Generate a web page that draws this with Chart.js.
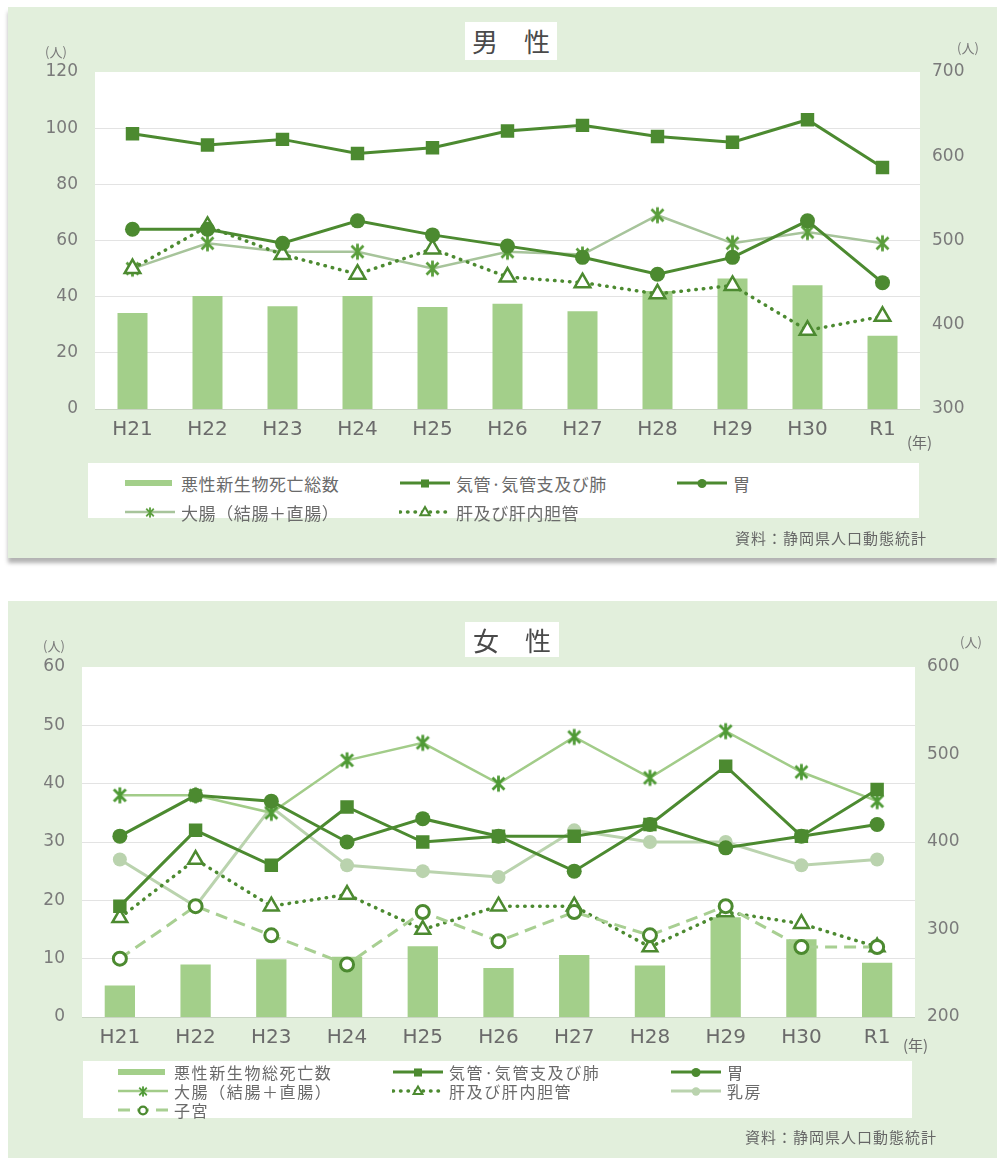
<!DOCTYPE html>
<html lang="ja">
<head>
<meta charset="utf-8">
<title>悪性新生物死亡数の推移</title>
<script src="https://cdn.jsdelivr.net/npm/chart.js@4.4.1/dist/chart.umd.min.js"></script>
<style>
  body { margin: 0; width: 997px; height: 1158px; position: relative; overflow: hidden; background: #fff;
         font-family: "Noto Sans CJK JP", "Noto Sans", sans-serif; }
  .panel { position: absolute; background: #e2efdc; }
  .panel canvas { position: absolute; left: 0; top: 0; }
  .title { position: absolute; background: #fff; color: #4a4a4a; font-size: 26px; line-height: 1;
           display: flex; align-items: center; justify-content: center; letter-spacing: 0; }
  .unit { position: absolute; color: #7a7a7a; font-size: 13px; line-height: 1; }
  .year { position: absolute; color: #6b6b6b; font-size: 15px; line-height: 1; }
  .legend { position: absolute; background: #fff; }
  .item { position: absolute; display: flex; align-items: center; color: #6a6a6a; white-space: nowrap; line-height: 1; }
  .item canvas { position: static; margin-right: 5px; }
  .source { position: absolute; color: #666; font-size: 15px; line-height: 1; letter-spacing: 1px; }
</style>
</head>
<body>

<div class="panel" id="pMale" style="left:8px;top:7px;width:989px;height:551px;box-shadow:0 5px 4px rgba(0,0,0,0.3);">
  <canvas id="male" width="989" height="551"></canvas>
  <div class="title" style="left:457px;top:15px;width:92px;height:38px;">男　性</div>
  <div class="unit" style="left:37px;top:38px;">(人)</div>
  <div class="unit" style="left:949px;top:34px;">(人)</div>
  <div class="year" style="left:899px;top:427px;">(年)</div>
  <div class="legend" id="legMale" style="left:80px;top:456px;width:831px;height:55px;"></div>
  <div class="source" style="left:727px;top:523px;">資料：静岡県人口動態統計</div>
</div>

<div class="panel" id="pFemale" style="left:8px;top:601px;width:989px;height:557px;">
  <canvas id="female" width="989" height="557"></canvas>
  <div class="title" style="left:457px;top:21px;width:94px;height:35px;">女　性</div>
  <div class="unit" style="left:35px;top:38px;">(人)</div>
  <div class="unit" style="left:952px;top:34px;">(人)</div>
  <div class="year" style="left:895px;top:436px;">(年)</div>
  <div class="legend" id="legFemale" style="left:75px;top:460px;width:829px;height:57px;"></div>
  <div class="source" style="left:737px;top:528px;">資料：静岡県人口動態統計</div>
</div>

<script>
const years = ['H21', 'H22', 'H23', 'H24', 'H25', 'H26', 'H27', 'H28', 'H29', 'H30', 'R1'];

// 男性（棒は右軸、折れ線は左軸）
const maleTotal   = [414, 434, 422, 434, 421, 425, 416, 440, 455, 447, 387];
const maleLung    = [98, 94, 96, 91, 93, 99, 101, 97, 95, 103, 86];
const maleStomach = [64, 64, 59, 67, 62, 58, 54, 48, 54, 67, 45];
const maleColon   = [50, 59, 56, 56, 50, 56, 55, 69, 59, 63, 59];
const maleLiver   = [50, 65, 55, 48, 57, 47, 45, 41, 44, 28, 33];

// 女性
const femaleTotal   = [236, 260, 266, 269, 281, 256, 271, 259, 314, 289, 262];
const femaleLung    = [19, 32, 26, 36, 30, 31, 31, 33, 43, 31, 39];
const femaleStomach = [31, 38, 37, 30, 34, 31, 25, 33, 29, 31, 33];
const femaleColon   = [38, 38, 35, 44, 47, 40, 48, 41, 49, 42, 37];
const femaleLiver   = [17, 27, 19, 21, 15, 19, 19, 12, 18, 16, 12];
const femaleBreast  = [27, 19, 36, 26, 25, 24, 32, 30, 30, 26, 27];
const femaleUterus  = [10, 19, 14, 9, 18, 13, 18, 14, 19, 12, 12];

const DARK = '#4c8a30';
const BAR = '#a3cf8a';
const GRID = 'rgba(0,0,0,0.11)';
const TICK_FONT = { family: 'DejaVu Sans', size: 17 };

// 米印マーカー（縦線＋斜め2本）
function asterisk(color, size, lw) {
  const c = document.createElement('canvas');
  c.width = size; c.height = size;
  const g = c.getContext('2d');
  const m = size / 2, r = size / 2 - lw / 2;
  g.strokeStyle = color; g.lineWidth = lw; g.lineCap = 'butt';
  g.beginPath();
  g.moveTo(m, m - r); g.lineTo(m, m + r);
  const d = r * 0.74;
  g.moveTo(m - d, m - d); g.lineTo(m + d, m + d);
  g.moveTo(m + d, m - d); g.lineTo(m - d, m + d);
  g.stroke();
  return c;
}

function lineSet(label, data, o) {
  return Object.assign({
    type: 'line', label: label, data: data, yAxisID: 'y',
    borderColor: DARK, backgroundColor: DARK, borderWidth: 3, tension: 0,
    pointBackgroundColor: DARK, pointBorderColor: DARK, pointBorderWidth: 0,
    pointRadius: 7.5, pointStyle: 'circle', order: 1
  }, o);
}

function barSet(label, data) {
  return {
    type: 'bar', label: label, data: data, yAxisID: 'y1',
    backgroundColor: BAR, barPercentage: 0.4, categoryPercentage: 1, order: 10
  };
}

const maleSets = [
  barSet('悪性新生物死亡総数', maleTotal),
  lineSet('気管·気管支及び肺', maleLung, { pointStyle: 'rect', pointRadius: 9.5, order: 2 }),
  lineSet('胃', maleStomach, { order: 1 }),
  lineSet('大腸（結腸＋直腸）', maleColon, { borderColor: '#a7c49b', borderWidth: 2.5,
    pointStyle: asterisk('#5a9e3c', 19, 2.8), order: 4 }),
  lineSet('肝及び肝内胆管', maleLiver, { borderDash: [0.5, 7], borderCapStyle: 'round', borderWidth: 3.5,
    pointStyle: 'triangle', pointRadius: 9, pointBackgroundColor: '#fff', pointBorderWidth: 2.5, order: 3 })
];

const femaleSets = [
  barSet('悪性新生物総死亡数', femaleTotal),
  lineSet('気管·気管支及び肺', femaleLung, { pointStyle: 'rect', pointRadius: 9.5, order: 2 }),
  lineSet('胃', femaleStomach, { order: 1 }),
  lineSet('大腸（結腸＋直腸）', femaleColon, { borderColor: '#a2cc89', borderWidth: 2.5,
    pointStyle: asterisk('#4f9a36', 19, 2.8), order: 5 }),
  lineSet('肝及び肝内胆管', femaleLiver, { borderDash: [0.5, 7], borderCapStyle: 'round', borderWidth: 3.5,
    pointStyle: 'triangle', pointRadius: 8.5, pointBackgroundColor: '#fff', pointBorderWidth: 2.5, order: 4 }),
  lineSet('乳房', femaleBreast, { borderColor: '#bad3ae', backgroundColor: '#bad3ae',
    pointBackgroundColor: '#bad3ae', pointBorderColor: '#bad3ae', pointRadius: 7, order: 6 }),
  lineSet('子宮', femaleUterus, { borderColor: '#a8cf92', borderDash: [12, 7], borderWidth: 3,
    pointBackgroundColor: '#fff', pointBorderColor: DARK, pointBorderWidth: 3, pointRadius: 6.5, order: 3 })
];

// 描画領域を白で塗る
const plotBg = {
  id: 'plotBg',
  beforeDraw(chart) {
    const { ctx, chartArea: a } = chart;
    ctx.save();
    ctx.fillStyle = '#fff';
    ctx.fillRect(a.left, a.top, a.right - a.left, a.bottom - a.top);
    ctx.restore();
  }
};

// axisW: 左右の軸の幅（目盛ラベルが切れない幅に固定）
function buildChart(id, datasets, left, right, padding, axisW) {
  return new Chart(document.getElementById(id), {
    type: 'bar',
    data: { labels: years, datasets: datasets },
    options: {
      responsive: false,
      animation: false,
      layout: { padding: padding },
      plugins: { legend: { display: false }, tooltip: { enabled: false } },
      scales: {
        x: {
          offset: true,
          grid: { display: false, drawTicks: false },
          border: { display: false },
          ticks: { color: '#6b6b6b', font: { family: 'DejaVu Sans', size: 20 }, padding: 9, maxRotation: 0 },
          afterFit: (s) => { s.height = 30; }
        },
        y: {
          position: 'left', min: left[0], max: left[1],
          grid: { drawTicks: false, color: (c) => c.tick && c.tick.value === left[1] ? 'rgba(0,0,0,0)' : GRID },
          border: { display: false },
          ticks: { stepSize: left[2], padding: 17, color: '#7a7a7a', font: TICK_FONT },
          afterFit: (s) => { s.width = axisW[0]; }
        },
        y1: {
          position: 'right', min: right[0], max: right[1],
          grid: { display: false, drawTicks: false },
          border: { display: false },
          ticks: { stepSize: right[2], padding: 12, color: '#7a7a7a', font: TICK_FONT },
          afterFit: (s) => { s.width = axisW[1]; }
        }
      }
    },
    plugins: [plotBg]
  });
}

// 凡例の記号
function drawMarker(g, ds, x, y, scale) {
  const r = (ds.pointRadius || 0) * scale;
  g.setLineDash([]);
  g.fillStyle = ds.pointBackgroundColor;
  g.strokeStyle = ds.pointBorderColor;
  g.lineWidth = Math.max(1.5, (ds.pointBorderWidth || 0) * 0.8);
  const st = ds.pointStyle;
  if (typeof st !== 'string') {
    g.drawImage(st, x - st.width * 0.32, y - st.height * 0.32, st.width * 0.64, st.height * 0.64);
    return;
  }
  g.beginPath();
  if (st === 'rect') {
    const s = r * Math.SQRT1_2;
    g.rect(x - s, y - s, 2 * s, 2 * s);
  } else if (st === 'triangle') {
    g.moveTo(x, y - r);
    g.lineTo(x + r * 0.866, y + r * 0.5);
    g.lineTo(x - r * 0.866, y + r * 0.5);
    g.closePath();
  } else {
    g.arc(x, y, r, 0, Math.PI * 2);
  }
  g.fill();
  if (ds.pointBorderWidth > 0) g.stroke();
}

function symbol(ds) {
  const c = document.createElement('canvas');
  c.width = 52; c.height = 16;
  const g = c.getContext('2d');
  if (ds.type === 'bar') {
    g.fillStyle = ds.backgroundColor;
    g.fillRect(1, 5, 47, 6);
    return c;
  }
  g.strokeStyle = ds.borderColor;
  g.lineWidth = ds.borderWidth;
  g.lineCap = ds.borderCapStyle || 'butt';
  g.setLineDash(ds.borderDash || []);
  g.beginPath();
  g.moveTo(1, 8); g.lineTo(51, 8);
  g.stroke();
  drawMarker(g, ds, 26, 8.5, 0.6);
  return c;
}

function buildLegend(id, datasets, cols, rows, fontSize, spacing) {
  const box = document.getElementById(id);
  datasets.forEach((ds, i) => {
    const item = document.createElement('div');
    item.className = 'item';
    item.style.left = cols[i % 3] + 'px';
    item.style.top = (rows[Math.floor(i / 3)] - 9) + 'px';
    item.style.height = '18px';
    item.style.fontSize = fontSize + 'px';
    item.style.letterSpacing = spacing + 'px';
    item.appendChild(symbol(ds));
    const t = document.createElement('span');
    t.textContent = ds.label;
    item.appendChild(t);
    box.appendChild(item);
  });
}

buildChart('male', maleSets, [0, 120, 20], [300, 700, 100], { left: 17, right: 7, top: 65, bottom: 119 }, [70, 70]);
buildChart('female', femaleSets, [0, 60, 10], [200, 600, 100], { left: 14, right: 22, top: 66, bottom: 111 }, [60, 60]);

buildLegend('legMale', maleSets, [36, 311, 588], [20, 49], 17, 0.6);
buildLegend('legFemale', femaleSets, [34, 309, 587], [11, 30, 49], 16, 1.6);
</script>
</body>
</html>
